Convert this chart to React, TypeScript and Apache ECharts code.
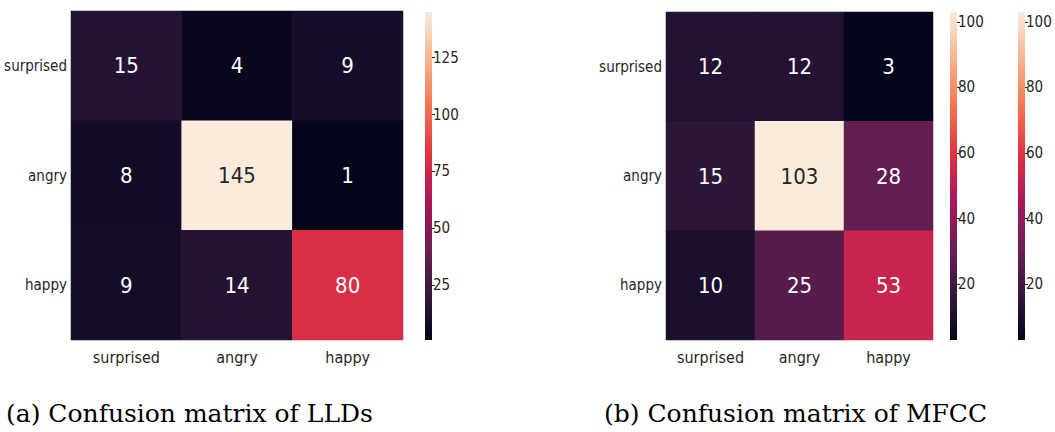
import React, { useEffect, useRef } from "react";
import * as echarts from "echarts";

const classes = ["surprised", "angry", "happy"];
// rows = true label (top to bottom), columns = predicted label
const lldMatrix = [
  [15, 4, 9],
  [8, 145, 1],
  [9, 14, 80],
];
const mfccMatrix = [
  [12, 12, 3],
  [15, 103, 28],
  [10, 25, 53],
];
const lldTicks = [25, 50, 75, 100, 125];
const mfccTicks = [20, 40, 60, 80, 100];
const captionA = "(a) Confusion matrix of LLDs";
const captionB = "(b) Confusion matrix of MFCC";

// seaborn "rocket" colormap, evenly spaced stops
const rocket = ["#03051a", "#35193e", "#701f57", "#ad1759", "#e13342", "#f37651", "#f6b48f", "#faebdd"];

const SANS = "'DejaVu Sans Condensed', 'Liberation Sans Narrow', 'DejaVu Sans', sans-serif";
const TXT = "#262626";

function toCells(m: number[][], lo: number, hi: number) {
  const out: any[] = [];
  m.forEach((row, r) =>
    row.forEach((v, c) => {
      const t = (v - lo) / (hi - lo);
      out.push({ value: [c, r, v], label: { color: t > 0.75 ? "#262626" : "#ffffff" } });
    })
  );
  return out;
}

export default function App() {
  const ref = useRef<HTMLDivElement>(null);
  useEffect(() => {
    document.body.style.margin = "0";
    const chart = echarts.init(ref.current!, null, { renderer: "svg" });
    const lldFlat = lldMatrix.flat();
    const mfccFlat = mfccMatrix.flat();
    const lMin = Math.min(...lldFlat), lMax = Math.max(...lldFlat);
    const mMin = Math.min(...mfccFlat), mMax = Math.max(...mfccFlat);

    const grids = [
      { left: 71, top: 11, width: 332, height: 329 },
      { left: 425, top: 12, width: 7, height: 328 },
      { left: 666, top: 12, width: 267, height: 328 },
      { left: 950, top: 12, width: 7, height: 328 },
      { left: 1018, top: 12, width: 7, height: 328 },
    ].map((g) => ({ ...g, outerBoundsMode: "none", containLabel: false }));

    const makeGradient = () =>
      new echarts.graphic.LinearGradient(
        0, 1, 0, 0,
        rocket.map((c, i) => ({ offset: i / (rocket.length - 1), color: c }))
      );

    const heatX = (gi: number) => ({
      type: "category", gridIndex: gi, data: classes,
      axisLine: { show: false }, axisTick: { show: false }, splitLine: { show: false },
      axisLabel: { interval: 0, hideOverlap: false, fontSize: 16, color: TXT, fontFamily: SANS, margin: 9 },
    });
    const heatY = (gi: number) => ({
      type: "category", gridIndex: gi, data: classes, inverse: true,
      axisLine: { show: false }, axisTick: { show: false }, splitLine: { show: false },
      axisLabel: { interval: 0, fontSize: 15, color: TXT, fontFamily: SANS, margin: 4 },
    });
    const cbX = (gi: number) => ({
      type: "category", gridIndex: gi, data: ["cb"], show: false,
    });
    const cbY = (gi: number, lo: number, hi: number, ticks: number[]) => ({
      type: "value", gridIndex: gi, min: lo, max: hi, position: "right",
      axisLine: { show: false }, splitLine: { show: false },
      axisTick: { show: true, length: 3, customValues: ticks, lineStyle: { color: TXT, width: 1 } },
      axisLabel: { customValues: ticks, fontSize: 15, color: TXT, fontFamily: SANS, margin: 1 },
    });

    // colorbar drawn as a rectangle spanning [lo, hi] on its own value axis
    const cbSeries = (gi: number, lo: number, hi: number) => ({
      type: "custom", xAxisIndex: gi, yAxisIndex: gi, data: [[0, lo, hi]],
      silent: true, clip: false,
      renderItem: (params: any, api: any) => {
        const pTop = api.coord([api.value(0), api.value(2)]);
        const pBot = api.coord([api.value(0), api.value(1)]);
        const bw = api.size([1, 0])[0];
        return {
          type: "rect",
          shape: { x: pTop[0] - bw / 2, y: pTop[1], width: bw, height: pBot[1] - pTop[1] },
          style: { fill: makeGradient() },
        };
      },
    });

    const heatLabel = { show: true, fontSize: 22, fontFamily: SANS };

    chart.setOption({
      animation: false,
      grid: grids,
      xAxis: [heatX(0), cbX(1), heatX(2), cbX(3), cbX(4)],
      yAxis: [
        heatY(0),
        cbY(1, lMin, lMax, lldTicks),
        heatY(2),
        cbY(3, mMin, mMax, mfccTicks),
        cbY(4, mMin, mMax, mfccTicks),
      ],
      visualMap: [
        { show: false, seriesIndex: 0, min: lMin, max: lMax, dimension: 2, inRange: { color: rocket } },
        { show: false, seriesIndex: 2, min: mMin, max: mMax, dimension: 2, inRange: { color: rocket } },
      ],
      series: [
        { type: "heatmap", xAxisIndex: 0, yAxisIndex: 0, data: toCells(lldMatrix, lMin, lMax), label: heatLabel },
        cbSeries(1, lMin, lMax),
        { type: "heatmap", xAxisIndex: 2, yAxisIndex: 2, data: toCells(mfccMatrix, mMin, mMax), label: heatLabel },
        cbSeries(3, mMin, mMax),
        cbSeries(4, mMin, mMax),
      ],
      graphic: [
        { type: "text", x: 6, y: 413, style: { text: captionA, font: "25px 'DejaVu Serif', serif", fill: "#000", verticalAlign: "middle" } },
        { type: "text", x: 604, y: 413, style: { text: captionB, font: "25px 'DejaVu Serif', serif", fill: "#000", verticalAlign: "middle" } },
      ],
    });
    return () => chart.dispose();
  }, []);
  return <div ref={ref} style={{ width: 1055, height: 432 }} />;
}
